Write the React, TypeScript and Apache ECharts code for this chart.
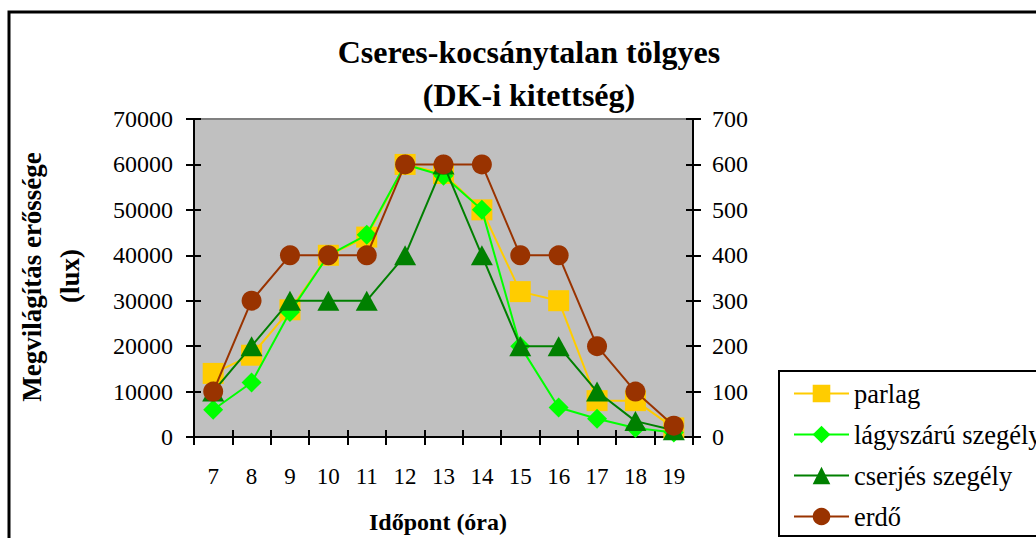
import React, { useEffect, useRef } from "react";
import * as echarts from "echarts";

const hours = ["7", "8", "9", "10", "11", "12", "13", "14", "15", "16", "17", "18", "19"];
const parlag = [14000, 18000, 28000, 40000, 44000, 60000, 58000, 50000, 32000, 30000, 8000, 8000, 2000];
const lagyszaru = [6000, 12000, 27500, 40000, 44500, 60000, 57500, 50000, 20000, 6500, 4000, 2000, 1000];
const cserjes = [10000, 20000, 30000, 30000, 30000, 40000, 60000, 40000, 20000, 20000, 10000, 3500, 1500];
const erdo = [100, 300, 400, 400, 400, 600, 600, 600, 400, 400, 200, 100, 25];

const seriesNames = ["parlag", "lágyszárú szegély", "cserjés szegély", "erdő"];
const titleLines = ["Cseres-kocsánytalan tölgyes", "(DK-i kitettség)"];
const yTitleLines = ["Megvilágítás erőssége", "(lux)"];
const xTitle = "Időpont (óra)";

const FONT = "Liberation Serif";

export default function App() {
  const ref = useRef<HTMLDivElement>(null);
  useEffect(() => {
    if (!ref.current) return;
    const chart = echarts.init(ref.current, null, { renderer: "svg" });
    const axisLine = { show: true, lineStyle: { color: "#000", width: 2 } };
    const plain = (v: number) => String(v);
    const leftVal = {
      type: "value",
      min: 0,
      max: 70000,
      interval: 10000,
      splitLine: { show: false },
      axisLine,
    };
    const rightVal = {
      type: "value",
      min: 0,
      max: 700,
      interval: 100,
      splitLine: { show: false },
      axisLine,
    };
    chart.setOption({
      animation: false,
      backgroundColor: "#fff",
      textStyle: { fontFamily: FONT },
      grid: {
        left: 194,
        top: 119,
        width: 499,
        height: 318,
        show: true,
        backgroundColor: "#C0C0C0",
        borderColor: "#808080",
        borderWidth: 2,
      },
      xAxis: [
        {
          type: "category",
          data: hours,
          boundaryGap: true,
          axisLine,
          axisTick: { show: true, length: 8, lineStyle: { color: "#000", width: 2 } },
          axisLabel: { margin: 28, fontFamily: FONT, fontSize: 23, color: "#000" },
        },
        {
          type: "category",
          data: hours,
          position: "bottom",
          boundaryGap: true,
          axisLine,
          axisTick: { show: true, inside: true, length: 7, lineStyle: { color: "#000", width: 2 } },
          axisLabel: { show: false },
        },
      ],
      yAxis: [
        {
          ...leftVal,
          position: "left",
          axisTick: { show: true, length: 8, lineStyle: { color: "#000", width: 2 } },
          axisLabel: { margin: 21, fontFamily: FONT, fontSize: 24, color: "#000", formatter: plain },
        },
        {
          ...rightVal,
          position: "right",
          axisTick: { show: true, length: 8, lineStyle: { color: "#000", width: 2 } },
          axisLabel: { margin: 19, fontFamily: FONT, fontSize: 24, color: "#000", formatter: plain },
        },
        {
          ...leftVal,
          position: "left",
          axisTick: { show: true, inside: true, length: 7, lineStyle: { color: "#000", width: 2 } },
          axisLabel: { show: false },
        },
        {
          ...rightVal,
          position: "right",
          axisTick: { show: true, inside: true, length: 7, lineStyle: { color: "#000", width: 2 } },
          axisLabel: { show: false },
        },
      ],
      legend: {
        orient: "vertical",
        left: 793,
        top: 380,
        padding: 0,
        itemWidth: 55,
        itemHeight: 22,
        itemGap: 14,
        data: seriesNames,
        textStyle: { fontFamily: FONT, fontSize: 26.5, lineHeight: 24, color: "#000" },
      },
      series: [
        {
          name: seriesNames[0],
          type: "line",
          data: parlag,
          yAxisIndex: 0,
          symbol: "rect",
          symbolSize: 21,
          color: "#FFCC00",
          lineStyle: { color: "#FFCC00", width: 2 },
          itemStyle: { color: "#FFCC00" },
          z: 2,
        },
        {
          name: seriesNames[1],
          type: "line",
          data: lagyszaru,
          yAxisIndex: 0,
          symbol: "diamond",
          symbolSize: 20,
          color: "#00FF00",
          lineStyle: { color: "#00FF00", width: 2 },
          itemStyle: { color: "#00FF00" },
          z: 3,
        },
        {
          name: seriesNames[2],
          type: "line",
          data: cserjes,
          yAxisIndex: 0,
          symbol: "triangle",
          symbolSize: [22, 20],
          color: "#008000",
          lineStyle: { color: "#008000", width: 2 },
          itemStyle: { color: "#008000" },
          z: 4,
        },
        {
          name: seriesNames[3],
          type: "line",
          data: erdo,
          yAxisIndex: 1,
          symbol: "circle",
          symbolSize: 20,
          color: "#993300",
          lineStyle: { color: "#993300", width: 2 },
          itemStyle: { color: "#993300" },
          z: 5,
        },
      ],
      graphic: [
        {
          type: "rect",
          silent: true,
          shape: { x: 9, y: 12, width: 1100, height: 600 },
          style: { fill: "none", stroke: "#000", lineWidth: 3 },
          z: -10,
        },
        {
          type: "rect",
          silent: true,
          shape: { x: 779, y: 371, width: 400, height: 165 },
          style: { fill: "#fff", stroke: "#000", lineWidth: 2 },
          z: -5,
        },
        {
          type: "text",
          x: 529,
          y: 52,
          style: {
            text: titleLines[0],
            align: "center",
            verticalAlign: "middle",
            fontFamily: FONT,
            fontWeight: "bold",
            fontSize: 32,
            fill: "#000",
          },
        },
        {
          type: "text",
          x: 529,
          y: 95,
          style: {
            text: titleLines[1],
            align: "center",
            verticalAlign: "middle",
            fontFamily: FONT,
            fontWeight: "bold",
            fontSize: 32,
            fill: "#000",
          },
        },
        {
          type: "text",
          x: 32,
          y: 277,
          rotation: Math.PI / 2,
          style: {
            text: yTitleLines[0],
            align: "center",
            verticalAlign: "middle",
            fontFamily: FONT,
            fontWeight: "bold",
            fontSize: 27,
            fill: "#000",
          },
        },
        {
          type: "text",
          x: 70,
          y: 276,
          rotation: Math.PI / 2,
          style: {
            text: yTitleLines[1],
            align: "center",
            verticalAlign: "middle",
            fontFamily: FONT,
            fontWeight: "bold",
            fontSize: 27,
            fill: "#000",
          },
        },
        {
          type: "text",
          x: 438,
          y: 522,
          style: {
            text: xTitle,
            align: "center",
            verticalAlign: "middle",
            fontFamily: FONT,
            fontWeight: "bold",
            fontSize: 24,
            fill: "#000",
          },
        },
      ],
    });
    return () => chart.dispose();
  }, []);
  return (
    <div
      ref={ref}
      style={{ position: "fixed", left: 0, top: 0, width: 1036, height: 538 }}
    />
  );
}
